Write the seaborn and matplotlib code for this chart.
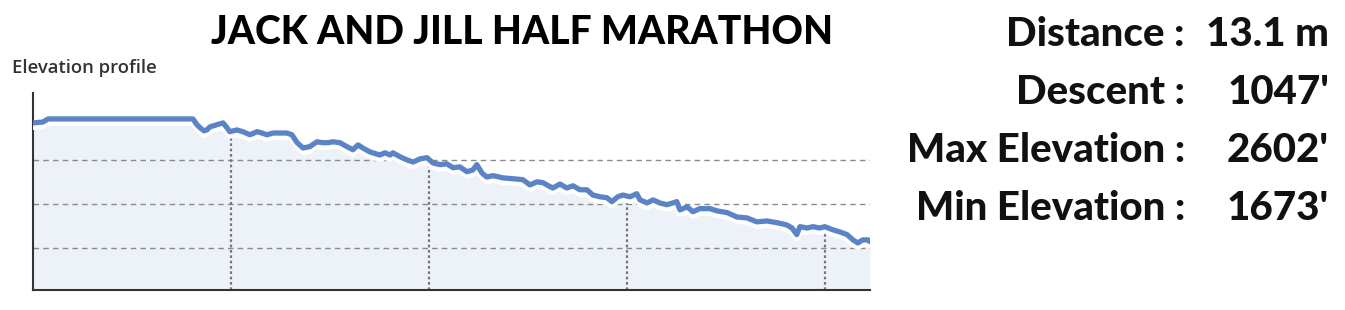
import numpy as np
import pandas as pd
import matplotlib
matplotlib.use("Agg")
import matplotlib.pyplot as plt
import matplotlib.patheffects as pe
import seaborn as sns

# ---- data (distance in km, elevation in m) ----
distance_km = [0.00, 0.25, 0.38, 4.04, 4.14, 4.22, 4.32, 4.39, 4.47, 4.65, 4.80, 4.90,
               4.97, 5.15, 5.30, 5.48, 5.66, 5.78, 5.91, 6.06, 6.41, 6.54, 6.67, 6.82,
               6.99, 7.17, 7.32, 7.45, 7.58, 7.75, 7.93, 8.08, 8.21, 8.33, 8.51, 8.76,
               8.89, 9.02, 9.09, 9.27, 9.44, 9.60, 9.77, 9.95, 10.10, 10.28, 10.45, 10.61,
               10.78, 10.96, 11.11, 11.21, 11.34, 11.46, 11.62, 11.87, 12.12, 12.37, 12.55,
               12.73, 12.88, 13.06, 13.13, 13.31, 13.48, 13.64, 13.81, 13.99, 14.14, 14.32,
               14.49, 14.62, 14.77, 14.90, 15.08, 15.25, 15.33, 15.51, 15.66, 15.83, 16.01,
               16.16, 16.26, 16.34, 16.52, 16.67, 16.84, 17.10, 17.27, 17.53, 17.78, 18.03,
               18.28, 18.54, 18.79, 19.04, 19.17, 19.29, 19.37, 19.55, 19.70, 19.87, 20.00,
               20.20, 20.38, 20.56, 20.71, 20.83, 20.96, 21.09, 21.14]
elevation_m = [784, 786, 793, 793, 780, 773, 766, 768, 775, 780, 784, 773,
               764, 768, 764, 757, 764, 761, 757, 761, 761, 757, 739, 727,
               730, 741, 739, 739, 741, 739, 730, 723, 734, 727, 718, 711,
               716, 711, 716, 707, 700, 695, 702, 705, 693, 689, 691, 682,
               684, 673, 677, 689, 670, 661, 664, 659, 657, 655, 643,
               650, 648, 639, 636, 645, 636, 641, 632, 632, 620, 616,
               614, 605, 616, 620, 616, 623, 609, 602, 609, 602, 598,
               602, 605, 586, 593, 582, 589, 589, 584, 580, 570, 568,
               559, 561, 557, 552, 545, 530, 548, 545, 548, 545, 548,
               541, 536, 530, 518, 511, 518, 518, 514]

grid_elev = [500, 600, 700]
grid_dist = [5, 10, 15, 20]

title = "JACK AND JILL HALF MARATHON"
subtitle = "Elevation profile"
stat_labels = ["Distance :", "Descent :", "Max Elevation :", "Min Elevation :"]
stat_values = ["13.1 m", "1047'", "2602'", "1673'"]

df = pd.DataFrame({"km": distance_km, "elev": elevation_m})

sns.set_style("white")
plt.rcParams["font.family"] = ["Open Sans", "DejaVu Sans"]

W, H = 1345, 310
fig = plt.figure(figsize=(W / 100, H / 100), dpi=100)
ax = fig.add_axes([33 / W, 20 / H, (870 - 33) / W, (290 - 93) / H])

ymin, ymax = 404, 852
ax.set_xlim(0, 21.14)
ax.set_ylim(ymin, ymax)

line_c = "#5b84c6"
fill_c = "#edf1f8"

ax.fill_between(df["km"], df["elev"], ymin, color=fill_c, lw=0, zorder=1)
for g in grid_elev:
    ax.axhline(g, color="#8a8a8a", lw=1.0, ls=(0, (4, 3)), zorder=2)
for d in grid_dist:
    top = np.interp(d, distance_km, elevation_m) - 14
    ax.vlines(d, ymin, top, color="#777777", lw=1.6, ls=(0, (1.2, 1.2)), zorder=2)

sns.lineplot(data=df, x="km", y="elev", ax=ax, color=line_c, lw=3.8, zorder=4,
             path_effects=[pe.SimpleLineShadow(offset=(0, -3.0), shadow_color="white", alpha=1.0,
                                               linewidth=4.2), pe.Normal()])

ax.set_xticks([])
ax.set_yticks([])
ax.set_xlabel("")
ax.set_ylabel("")
for s in ["top", "right"]:
    ax.spines[s].set_visible(False)
for s in ["left", "bottom"]:
    ax.spines[s].set_color("#333333")
    ax.spines[s].set_linewidth(1.5)

renderer = fig.canvas.get_renderer()


def fit(t, target_w):
    w = t.get_window_extent(renderer).width
    t.set_fontsize(t.get_fontsize() * target_w / w)


st = fig.text(12 / W, 1 - 68 / H, subtitle, fontsize=10.5, fontweight="semibold",
              color="#333333", ha="left", va="center")
fit(st, 146)

big_font = ["Lato", "Open Sans", "DejaVu Sans"]
t = fig.text(522 / W, 1 - 33 / H, title, fontsize=24, fontweight="black",
             family=big_font, color="black", ha="center", va="center")
fit(t, 621)

ys = [35, 92, 150, 208]
labs = []
for lab, val, y in zip(stat_labels, stat_values, ys):
    tl = fig.text(1185 / W, 1 - y / H, lab, fontsize=24, fontweight="black",
                  family=big_font, color="#111111", ha="right", va="center")
    tv = fig.text(1329 / W, 1 - y / H, val, fontsize=24, fontweight="black",
                  family=big_font, color="#111111", ha="right", va="center")
    labs.append((tl, tv))
w_ref = labs[2][0].get_window_extent(renderer).width
scale = 279 / w_ref
for tl, tv in labs:
    tl.set_fontsize(tl.get_fontsize() * scale)
    tv.set_fontsize(tv.get_fontsize() * scale)

fig.savefig("out.png", dpi=100)
